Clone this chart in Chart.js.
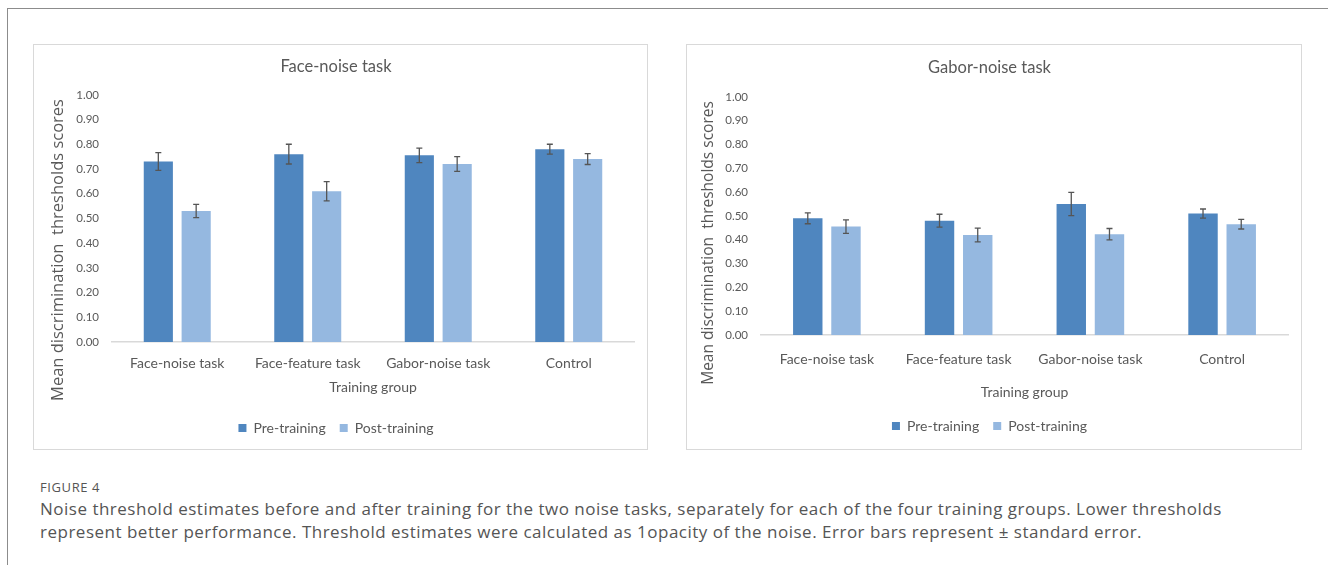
<!DOCTYPE html>
<html>
<head>
<meta charset="utf-8">
<script src="https://cdn.jsdelivr.net/npm/chart.js@4.4.1/dist/chart.umd.min.js"></script>
<style>
  html, body { margin: 0; padding: 0; background: #fff; }
  body { width: 1328px; height: 565px; position: relative; overflow: hidden; font-family: "Open Sans", sans-serif; }
  .frame { position: absolute; left: 7px; top: 8px; width: 1330px; height: 600px; border-left: 1px solid #8c8c8c; border-top: 1px solid #8c8c8c; }
  .panel { position: absolute; border: 1px solid #d9d9d9; background: #fff; }
  .panel canvas { display: block; }
  #p1 { left: 33px; top: 44px; width: 613px; height: 404px; }
  #p2 { left: 686px; top: 44px; width: 614px; height: 404px; }
  .fig { position: absolute; left: 40px; top: 478px; font-size: 13px; color: #555; letter-spacing: 0.6px; }
  .cap { position: absolute; left: 40px; top: 497px; font-size: 17px; line-height: 23px; letter-spacing: 0.5px; color: #555; white-space: nowrap; }
</style>
</head>
<body>
<div class="frame"></div>
<div class="panel" id="p1"><canvas id="c1" width="613" height="404"></canvas></div>
<div class="panel" id="p2"><canvas id="c2" width="614" height="404"></canvas></div>
<div class="fig">FIGURE 4</div>
<div class="cap">Noise threshold estimates before and after training for the two noise tasks, separately for each of the four training groups. Lower thresholds<br>represent better performance. Threshold estimates were calculated as 1opacity of the noise. Error bars represent ± standard error.</div>
<script>
// Training groups shown on the x axis
const groups = ['Face-noise task', 'Face-feature task', 'Gabor-noise task', 'Control'];

// Face-noise task thresholds (mean and standard error)
const faceNoisePre = [0.73, 0.76, 0.755, 0.78];
const faceNoisePost = [0.53, 0.61, 0.72, 0.74];
const faceNoisePreSE = [0.036, 0.04, 0.029, 0.02];
const faceNoisePostSE = [0.027, 0.039, 0.03, 0.022];

// Gabor-noise task thresholds (mean and standard error)
const gaborNoisePre = [0.49, 0.48, 0.55, 0.51];
const gaborNoisePost = [0.455, 0.42, 0.423, 0.465];
const gaborNoisePreSE = [0.023, 0.027, 0.049, 0.019];
const gaborNoisePostSE = [0.028, 0.029, 0.024, 0.02];

// Y axis ticks
const yTicks = [0, 0.1, 0.2, 0.3, 0.4, 0.5, 0.6, 0.7, 0.8, 0.9, 1.0];

const PRE_COLOR = '#4f86bf';
const POST_COLOR = '#95b8e0';
const TEXT = '#595959';

// Draws ± SE whiskers with caps on top of each bar
const errorBars = {
  id: 'errorBars',
  afterDatasetsDraw(chart) {
    const ctx = chart.ctx;
    const y = chart.scales.y;
    ctx.save();
    ctx.strokeStyle = '#555';
    ctx.lineWidth = 1.3;
    chart.data.datasets.forEach((ds, i) => {
      const meta = chart.getDatasetMeta(i);
      meta.data.forEach((bar, j) => {
        const v = ds.data[j], e = ds.errors[j];
        const yHi = y.getPixelForValue(v + e);
        const yLo = y.getPixelForValue(v - e);
        const x = bar.x;
        ctx.beginPath();
        ctx.moveTo(x, yHi); ctx.lineTo(x, yLo);
        ctx.moveTo(x - 3, yHi); ctx.lineTo(x + 3, yHi);
        ctx.moveTo(x - 3, yLo); ctx.lineTo(x + 3, yLo);
        ctx.stroke();
      });
    });
    ctx.restore();
  }
};

// Rotated y-axis caption placed at a fixed point of the canvas
const sideTitle = {
  id: 'sideTitle',
  afterDraw(chart, args, opts) {
    const ctx = chart.ctx;
    ctx.save();
    ctx.translate(opts.x, opts.y);
    ctx.rotate(-Math.PI / 2);
    ctx.font = opts.font;
    ctx.fillStyle = opts.color;
    ctx.textAlign = 'center';
    ctx.textBaseline = 'middle';
    ctx.fillText(opts.text, 0, 0);
    ctx.restore();
  }
};

function makeChart(canvasId, cfg) {
  const data = {
    labels: groups,
    datasets: [
      { label: 'Pre-training', data: cfg.pre, errors: cfg.preSE, backgroundColor: PRE_COLOR,
        categoryPercentage: 0.58, barPercentage: 0.77 },
      { label: 'Post-training', data: cfg.post, errors: cfg.postSE, backgroundColor: POST_COLOR,
        categoryPercentage: 0.58, barPercentage: 0.77 }
    ]
  };
  return new Chart(document.getElementById(canvasId), {
    type: 'bar',
    data,
    plugins: [errorBars, sideTitle],
    options: {
      responsive: false,
      animation: false,
      layout: { padding: cfg.padding },
      plugins: {
        tooltip: { enabled: false },
        title: {
          display: true, text: cfg.title, color: TEXT,
          font: { family: 'Lato', size: 16.5, weight: 'normal' },
          padding: cfg.titlePad
        },
        legend: {
          position: 'bottom',
          labels: {
            color: TEXT, boxWidth: 8, boxHeight: 8, padding: 14,
            font: { family: 'Lato', size: 14 }
          }
        },
        sideTitle: {
          text: 'Mean discrimination  thresholds scores',
          x: cfg.sideX, y: cfg.sideY, color: TEXT,
          font: cfg.sideFont
        }
      },
      scales: {
        x: {
          grid: { display: false, drawTicks: false },
          border: { color: '#d9d9d9', width: 1.5 },
          ticks: { color: TEXT, padding: cfg.xTickPad, font: { family: 'Lato', size: 14 } },
          title: { display: true, text: 'Training group', color: TEXT,
                   font: { family: 'Lato', size: 14 }, padding: { top: 0, bottom: cfg.xTitlePad } },
          afterFit(s) { s.height = cfg.xHeight; }
        },
        y: {
          min: 0, max: 1,
          grid: { display: false, drawTicks: false },
          border: { display: false },
          afterBuildTicks(s) { s.ticks = yTicks.map(v => ({ value: v })); },
          ticks: { color: TEXT, padding: 13, font: { family: 'Lato', size: 11.5 },
                   callback: v => Number(v).toFixed(2) },
          afterFit(s) { s.width = cfg.yWidth; }
        }
      }
    }
  });
}

makeChart('c1', {
  title: 'Face-noise task',
  pre: faceNoisePre, post: faceNoisePost, preSE: faceNoisePreSE, postSE: faceNoisePostSE,
  padding: { left: 4, right: 13, top: 0, bottom: 4 },
  titlePad: { top: 12, bottom: 18 },
  xTickPad: 13.5, xTitlePad: 11, xHeight: 65, yWidth: 74,
  sideX: 24, sideY: 205, sideFont: '16.5px "Open Sans"'
});

makeChart('c2', {
  title: 'Gabor-noise task',
  pre: gaborNoisePre, post: gaborNoisePost, preSE: gaborNoisePreSE, postSE: gaborNoisePostSE,
  padding: { left: 4, right: 13, top: 0, bottom: 6 },
  titlePad: { top: 13, bottom: 19 },
  xTickPad: 16.5, xTitlePad: 4, xHeight: 70, yWidth: 70,
  sideX: 22, sideY: 198, sideFont: '15.5px "Open Sans"'
});
</script>
</body>
</html>
